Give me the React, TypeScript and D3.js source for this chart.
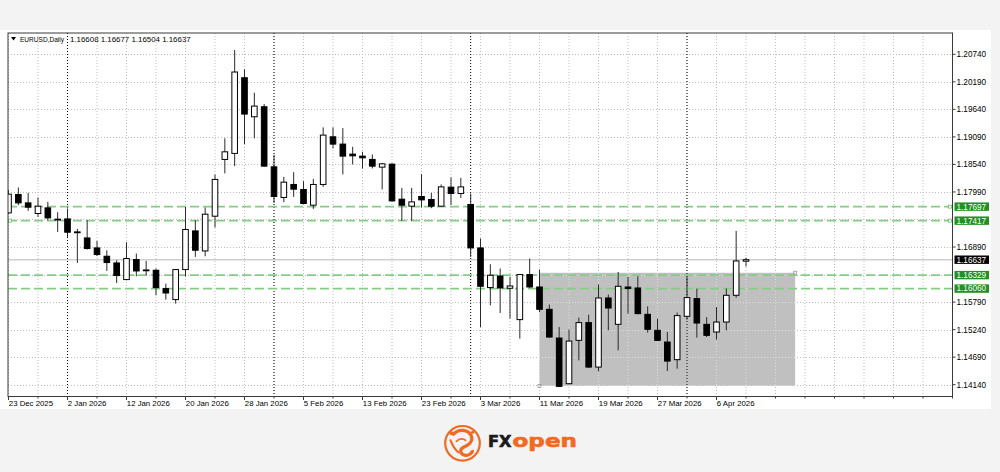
import React from "react";
import * as d3 from "d3";

// ---------- DATA ----------
const SYMBOL = "EURUSD,Daily";

const DATES = [
  "2025-12-23","2025-12-24","2025-12-26","2025-12-29","2025-12-30","2025-12-31",
  "2026-01-02","2026-01-05","2026-01-06","2026-01-07","2026-01-08","2026-01-09",
  "2026-01-12","2026-01-13","2026-01-14","2026-01-15","2026-01-16","2026-01-19",
  "2026-01-20","2026-01-21","2026-01-22","2026-01-23","2026-01-26","2026-01-27",
  "2026-01-28","2026-01-29","2026-01-30","2026-02-02","2026-02-03","2026-02-04",
  "2026-02-05","2026-02-06","2026-02-09","2026-02-10","2026-02-11","2026-02-12",
  "2026-02-13","2026-02-16","2026-02-17","2026-02-18","2026-02-19","2026-02-20",
  "2026-02-23","2026-02-24","2026-02-25","2026-02-26","2026-02-27","2026-03-02",
  "2026-03-03","2026-03-04","2026-03-05","2026-03-06","2026-03-09","2026-03-10",
  "2026-03-11","2026-03-12","2026-03-13","2026-03-16","2026-03-17","2026-03-18",
  "2026-03-19","2026-03-20","2026-03-23","2026-03-24","2026-03-25","2026-03-26",
  "2026-03-27","2026-03-30","2026-03-31","2026-04-01","2026-04-02","2026-04-03",
  "2026-04-06","2026-04-07","2026-04-08","2026-04-09",
];

const OPEN = [
  1.17572,1.17940,1.17772,1.17560,1.17672,1.17446,1.17452,1.17192,1.17072,1.16872,
  1.16706,1.16572,1.16240,1.16640,1.16432,1.16426,1.16060,1.15840,1.16440,1.17212,
  1.16812,1.17506,1.18640,1.18760,1.20272,1.19492,1.19692,1.18492,1.17880,1.18140,
  1.18040,1.17726,1.18140,1.19092,1.18946,1.18746,1.18706,1.18640,1.18486,1.18546,
  1.17846,1.17706,1.17900,1.17840,1.17706,1.18086,1.17960,1.17740,1.16872,1.16080,
  1.16312,1.16066,1.15440,1.16340,1.16092,1.15646,1.15072,1.14160,1.15026,1.15380,
  1.14492,1.15872,1.15346,1.16092,1.16072,1.15546,1.15226,1.14992,1.14640,1.15506,
  1.15860,1.15346,1.15192,1.15392,1.15926,1.16608,
];
const HIGH = [
  1.18026,1.18080,1.17972,1.17880,1.17792,1.17586,1.17660,1.17252,1.17426,1.17012,
  1.16826,1.16626,1.16986,1.16760,1.16612,1.16460,1.16160,1.16452,1.17692,1.17426,
  1.17680,1.18340,1.19060,1.20826,1.20440,1.19972,1.19746,1.18732,1.18292,1.18386,
  1.18206,1.18252,1.19280,1.19280,1.19266,1.18892,1.18792,1.18740,1.18572,1.18560,
  1.18072,1.18072,1.18346,1.17972,1.18140,1.18280,1.18272,1.17960,1.17060,1.16546,
  1.16460,1.16292,1.16346,1.16660,1.16440,1.15740,1.15292,1.15240,1.15480,1.15540,
  1.16140,1.15940,1.16392,1.16292,1.16306,1.15706,1.15460,1.15192,1.15580,1.16292,
  1.16060,1.15492,1.15692,1.16060,1.17212,1.16677,
];
const LOW = [
  1.17546,1.17726,1.17612,1.17492,1.17426,1.17192,1.17092,1.16572,1.16840,1.16712,
  1.16412,1.16172,1.16226,1.16306,1.16326,1.15926,1.15840,1.15760,1.16306,1.16692,
  1.16706,1.17280,1.18360,1.18506,1.18946,1.19060,1.18500,1.17772,1.17786,1.17892,
  1.17746,1.17652,1.18092,1.18860,1.18340,1.18540,1.18460,1.18460,1.18040,1.17796,
  1.17412,1.17412,1.17680,1.17666,1.17696,1.17732,1.17872,1.16692,1.15292,1.15726,
  1.15572,1.15460,1.15060,1.16072,1.15592,1.15076,1.14092,1.14146,1.14626,1.14476,
  1.14406,1.15226,1.14826,1.15560,1.15546,1.15180,1.15016,1.14412,1.14460,1.15440,
  1.15080,1.15092,1.15040,1.15226,1.15880,1.16504,
];
const CLOSE = [
  1.17946,1.17772,1.17686,1.17706,1.17472,1.17434,1.17186,1.17180,1.16860,1.16740,
  1.16580,1.16320,1.16660,1.16412,1.16420,1.16080,1.15972,1.16440,1.17240,1.16826,
  1.17546,1.18240,1.18792,1.20386,1.19546,1.19706,1.18506,1.17900,1.18186,1.18046,
  1.17760,1.18140,1.19126,1.18946,1.18706,1.18712,1.18672,1.18506,1.18552,1.17812,
  1.17726,1.17792,1.17832,1.17706,1.18092,1.17960,1.18092,1.16872,1.16106,1.16326,
  1.16072,1.16112,1.16340,1.16092,1.15646,1.15092,1.14106,1.15012,1.15380,1.14492,
  1.15872,1.15672,1.16106,1.16060,1.15560,1.15246,1.15026,1.14612,1.15520,1.15880,
  1.15372,1.15126,1.15392,1.15926,1.16612,1.16637,
];

const PRICE_TICKS = [
  1.20740, 1.20190, 1.19640, 1.19090, 1.18540, 1.17990, 1.17440,
  1.16890, 1.16340, 1.15790, 1.15240, 1.14690, 1.14140,
];
const LEVELS = [1.17697, 1.17417, 1.16329, 1.16060];
const RANGE_BOX_START = "2026-03-11";
const RANGE_BOX_BARS = 26;
const RANGE_BOX_TOP = 1.16376;
const RANGE_BOX_BOTTOM = 1.14116;

// ---------- CHART ----------
const FONT = "'Liberation Sans', Arial, sans-serif";
const ORANGE = "#f26a21";

export default function App() {
  const W = 1000, H = 472;
  const L = 8, R = 952.5, T = 33, B = 396.5;
  const TOTAL_SLOTS = 96;

  const x = d3.scaleLinear().domain([0, TOTAL_SLOTS]).range([8.5, R]);
  const y = d3.scaleLinear().domain([1.2074, 1.1414]).range([54.3, 384.7]);

  const parse = d3.timeParse("%Y-%m-%d");
  const fmt = d3.timeFormat("%-d %b %Y");
  const dates = DATES.map((s) => parse(s) as Date);

  const bars = DATES.map((d, i) => ({
    i, o: OPEN[i], h: HIGH[i], l: LOW[i], c: CLOSE[i],
  }));

  const gridIdx = d3.range(0, TOTAL_SLOTS + 1, 3);
  const labelIdx = d3.range(0, DATES.length, 6);
  const monthSep = dates
    .map((d, i) => (i > 0 && d.getMonth() !== dates[i - 1].getMonth() ? i : -1))
    .filter((i) => i >= 0);

  const last = bars[bars.length - 1];
  const current = last.c;
  const tagPrices = [...LEVELS, current];
  const shownTicks = PRICE_TICKS.filter(
    (p) => !tagPrices.some((q) => Math.abs(y(p) - y(q)) < 9)
  );

  const boxStart = DATES.indexOf(RANGE_BOX_START);
  const boxX0 = x(boxStart);
  const boxX1 = x(boxStart + RANGE_BOX_BARS);
  const boxY0 = y(RANGE_BOX_TOP);
  const boxY1 = y(RANGE_BOX_BOTTOM);

  const bw = 5.6;
  const fmtP = (p: number) => p.toFixed(5);

  const gridLines = (color: string) => (
    <g stroke={color} strokeWidth={1} strokeDasharray="1,2">
      {PRICE_TICKS.map((p) => (
        <line key={"h" + p} x1={L} x2={R} y1={Math.round(y(p)) + 0.5} y2={Math.round(y(p)) + 0.5} />
      ))}
      {gridIdx.map((i) => (
        <line key={"v" + i} x1={x(i)} x2={x(i)} y1={T} y2={B} />
      ))}
    </g>
  );

  return (
    <svg
      width={W}
      height={H}
      style={{ position: "absolute", left: 0, top: 0, display: "block" }}
      fontFamily={FONT}
    >
      <defs>
        <clipPath id="plotClip">
          <rect x={L} y={T} width={R - L} height={B - T} />
        </clipPath>
        <clipPath id="boxClip">
          <rect x={boxX0} y={boxY0} width={boxX1 - boxX0} height={boxY1 - boxY0} />
        </clipPath>
      </defs>

      <rect x={0} y={0} width={W} height={H} fill="#f3f3f3" />
      <rect x={0} y={30} width={991} height={379} fill="#ffffff" />

      {/* header */}
      <path d="M11,37 L16,37 L13.5,40.5 Z" fill="#000" />
      <text x={20} y={42} fontSize={8} fill="#000" textLength={44} lengthAdjust="spacingAndGlyphs">
        {SYMBOL}
      </text>
      <text x={70} y={42} fontSize={7.9} fill="#000">
        {[last.o, last.h, last.l, last.c].map(fmtP).join(" ")}
      </text>

      <g clipPath="url(#plotClip)">
        {gridLines("#bdbdbd")}
        <rect x={boxX0} y={boxY0} width={boxX1 - boxX0} height={boxY1 - boxY0} fill="#c0c0c0" />
        <g clipPath="url(#boxClip)">{gridLines("#dedede")}</g>
        <rect x={boxX0 - 1.5} y={boxY1 - 1.5} width={3} height={3} fill="none" stroke="#9a9a9a" strokeWidth={0.8} />
        <rect x={boxX1 - 1.5} y={boxY0 - 1.5} width={3} height={3} fill="none" stroke="#9a9a9a" strokeWidth={0.8} />

        {/* month separators */}
        <g stroke="#000" strokeWidth={1} strokeDasharray="1,2">
          {monthSep.map((i) => (
            <line key={"m" + i} x1={x(i)} x2={x(i)} y1={T} y2={B} />
          ))}
        </g>

        {/* current price line */}
        <line x1={L} x2={R} y1={y(current)} y2={y(current)} stroke="#cfcfcf" strokeWidth={1.5} />

        {/* horizontal levels */}
        <g stroke="#86cb86" strokeWidth={1.6} strokeDasharray="9,4">
          {LEVELS.map((p) => (
            <line key={"lv" + p} x1={L} x2={R} y1={y(p)} y2={y(p)} />
          ))}
        </g>
        {LEVELS.slice(0, 2).map((p) => (
          <g key={"sq" + p} fill="#fff" stroke="#6fbf6f" strokeWidth={0.8}>
            <rect x={L + 0.5} y={y(p) - 1.5} width={3} height={3} />
            <rect x={R - 4} y={y(p) - 1.5} width={3} height={3} />
          </g>
        ))}

        {/* candles */}
        {bars.map((b) => {
          const cx = x(b.i);
          const up = b.c >= b.o;
          const top = y(Math.max(b.o, b.c));
          const bot = y(Math.min(b.o, b.c));
          const hgt = Math.max(0.8, bot - top);
          return (
            <g key={"c" + b.i}>
              <line x1={cx} x2={cx} y1={y(b.h)} y2={y(b.l)} stroke="#2a2a2a" strokeWidth={1} />
              <rect
                x={cx - bw / 2}
                y={top}
                width={bw}
                height={hgt}
                fill={up ? "#ffffff" : "#000000"}
                stroke="#000"
                strokeWidth={1}
              />
            </g>
          );
        })}
      </g>

      {/* frame */}
      <rect x={L} y={T} width={R - L} height={B - T} fill="none" stroke="#3a3a3a" strokeWidth={1} />

      {/* bottom axis */}
      <g stroke="#3a3a3a" strokeWidth={1}>
        {gridIdx.map((i) => (
          <line key={"bt" + i} x1={x(i)} x2={x(i)} y1={B} y2={B + (i % 6 === 0 && i < DATES.length ? 3.5 : 2)} />
        ))}
      </g>
      <g fontSize={7.8} fill="#000">
        {labelIdx.map((i) => (
          <text key={"bl" + i} x={x(i) + 0.3} y={405.5}>
            {fmt(dates[i])}
          </text>
        ))}
      </g>

      {/* right axis */}
      <g stroke="#3a3a3a" strokeWidth={1}>
        {shownTicks.map((p) => (
          <line key={"rt" + p} x1={R} x2={R + 3} y1={y(p)} y2={y(p)} />
        ))}
      </g>
      <g fontSize={8.2} fill="#000">
        {shownTicks.map((p) => (
          <text key={"rl" + p} x={956.5} y={y(p) + 2.9}>
            {fmtP(p)}
          </text>
        ))}
      </g>

      {/* price tags */}
      {LEVELS.map((p) => (
        <g key={"tag" + p}>
          <rect x={954.5} y={y(p) - 4.2} width={34.5} height={8.4} fill="#229022" />
          <text x={956.5} y={y(p) + 2.9} fontSize={8.2} fill="#fff">
            {fmtP(p)}
          </text>
        </g>
      ))}
      <g>
        <rect x={954.5} y={y(current) - 4.2} width={34.5} height={8.4} fill="#000" />
        <text x={956.5} y={y(current) + 2.9} fontSize={8.2} fill="#fff">
          {fmtP(current)}
        </text>
      </g>

      {/* logo */}
      <g transform="translate(462.5,443.3)">
        <circle r={17.3} fill="none" stroke={ORANGE} strokeWidth={2.2} />
        <path
          d="M-9,-9 C-4,-15 6,-14 9,-7 C11,-1 5,2 1,4 C-3,6 -3,11 3,12 C6,12.5 9,10 10,8"
          fill="none"
          stroke={ORANGE}
          strokeWidth={3.2}
          strokeLinecap="round"
        />
        <path d="M-12,-3 C-10,2 -8,6 -4,9" fill="none" stroke={ORANGE} strokeWidth={2.2} strokeLinecap="round" />
        <path d="M-6,-2 C-3,-5 1,-5 3,-3" fill="none" stroke={ORANGE} strokeWidth={1.8} strokeLinecap="round" />
        <circle cx={-11} cy={-10} r={2} fill={ORANGE} />
        <circle cx={10} cy={-11} r={1.6} fill={ORANGE} />
      </g>
      <text
        x={488}
        y={446.7}
        fontSize={15.2}
        fontWeight={700}
        fontFamily="'DejaVu Sans', sans-serif"
        fill="#1b1b1b"
        stroke="#1b1b1b"
        strokeWidth={0.6}
        textLength={23.5}
        lengthAdjust="spacingAndGlyphs"
      >
        FX
      </text>
      <text
        x={512.5}
        y={446.7}
        fontSize={18}
        fontWeight={700}
        fontFamily="'DejaVu Sans', sans-serif"
        fill={ORANGE}
        stroke={ORANGE}
        strokeWidth={0.6}
        textLength={64.5}
        lengthAdjust="spacingAndGlyphs"
      >
        open
      </text>
    </svg>
  );
}
